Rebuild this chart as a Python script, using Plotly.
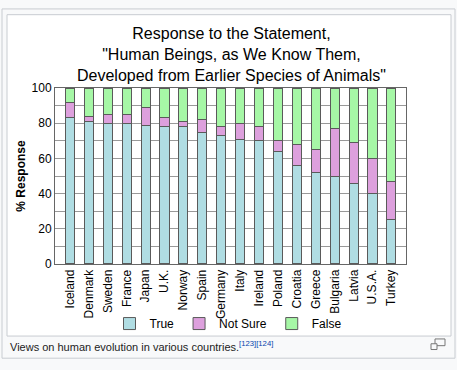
import plotly.graph_objects as go

countries = ["Iceland", "Denmark", "Sweden", "France", "Japan", "U.K.", "Norway", "Spain",
             "Germany", "Italy", "Ireland", "Poland", "Croatia", "Greece", "Bulgaria",
             "Latvia", "U.S.A.", "Turkey"]
true_vals = [83, 81, 80, 80, 79, 78, 78, 75, 73, 71, 70, 64, 56, 52, 50, 46, 40, 25]
notsure_vals = [9, 3, 5, 5, 10, 5, 3, 7, 5, 9, 8, 6, 12, 13, 27, 23, 20, 22]
false_vals = [8, 16, 15, 15, 11, 17, 19, 18, 22, 20, 22, 30, 32, 35, 23, 31, 40, 53]
y_ticks = [0, 20, 40, 60, 80, 100]

W, H = 457, 370
def px(x):
    return x / W
def py(y):
    return 1 - y / H

FONT = "Liberation Sans, Arial, sans-serif"
edge = dict(color="#5a5a5a", width=1)

fig = go.Figure()
for name, vals, col in [("True", true_vals, "#b0dde3"),
                        ("Not Sure", notsure_vals, "#dda0dd"),
                        ("False", false_vals, "#a6f7a6")]:
    fig.add_trace(go.Bar(x=countries, y=vals, name=name, marker=dict(color=col, line=edge),
                         width=0.48))

shapes = [
    dict(type="rect", xref="paper", yref="paper", x0=px(2), x1=px(455), y0=py(365), y1=py(2),
         line=dict(color="#c8ccd1", width=1), fillcolor="#f8f9fa", layer="below"),
    dict(type="rect", xref="paper", yref="paper", x0=px(7), x1=px(451), y0=py(342), y1=py(8),
         line=dict(color="#c8ccd1", width=1), fillcolor="#ffffff", layer="below"),
    dict(type="rect", xref="paper", yref="paper", x0=px(435), x1=px(445), y0=py(352), y1=py(345),
         line=dict(color="#777", width=1), fillcolor="rgba(0,0,0,0)"),
    dict(type="rect", xref="paper", yref="paper", x0=px(431), x1=px(437), y0=py(356), y1=py(350),
         line=dict(color="#777", width=1), fillcolor="#f8f9fa"),
]

title_text = ("Response to the Statement,<br>\"Human Beings, as We Know Them,<br>"
              "Developed from Earlier Species of Animals\"")

fig.update_layout(
    width=W, height=H,
    margin=dict(l=0, r=0, t=0, b=0),
    paper_bgcolor="#f8f9fa", plot_bgcolor="#ffffff",
    barmode="stack",
    font=dict(family=FONT, size=12, color="#000"),
    xaxis=dict(domain=[px(55), px(406)], range=[-0.79, 17.77], tickangle=-90,
               showline=True, linecolor="#666", mirror=True, showgrid=False, ticks="",
               tickfont=dict(size=12)),
    yaxis=dict(domain=[py(267), py(84.3)], range=[0, 100], tickvals=y_ticks,
               showline=True, linecolor="#666", mirror=True,
               showgrid=True, gridcolor="#999", gridwidth=1,
               minor=dict(dtick=10, showgrid=True, gridcolor="#999", gridwidth=1),
               zeroline=False, ticks="", tickfont=dict(size=12),
               title=dict(text="<b>% Response</b>", font=dict(size=12), standoff=3)),
    legend=dict(orientation="h", x=px(228), xanchor="center", y=py(329), yanchor="middle",
                font=dict(size=12), traceorder="normal", bgcolor="rgba(0,0,0,0)"),
    shapes=shapes,
    annotations=[
        dict(text=title_text, xref="paper", yref="paper", x=px(231), y=py(17),
             xanchor="center", yanchor="top", showarrow=False, align="center",
             font=dict(family=FONT, size=16, color="#000")),
        dict(text="Views on human evolution in various countries.<sup><span style='color:#0645ad'>[123][124]</span></sup>",
             xref="paper", yref="paper", x=px(8), y=py(352), xanchor="left", yanchor="middle",
             showarrow=False, font=dict(family=FONT, size=11, color="#222")),
    ],
    bargap=0.5,
)

fig.write_html("out.html", config={"displayModeBar": False},
               post_script="document.body.style.margin='0';document.body.style.overflow='hidden';")
